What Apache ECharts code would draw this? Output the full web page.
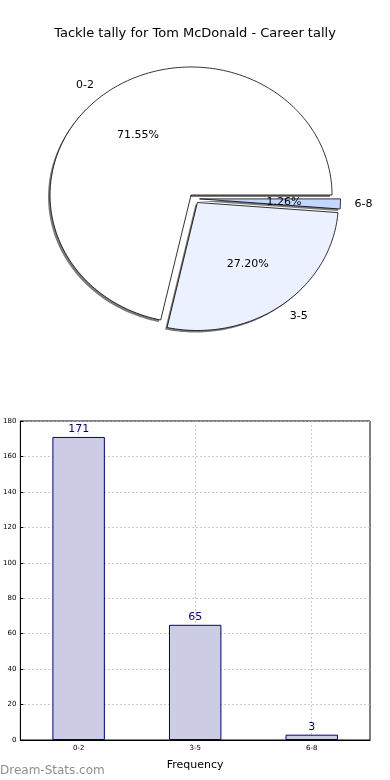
<!DOCTYPE html>
<html><head><meta charset="utf-8">
<script src="https://cdn.jsdelivr.net/npm/echarts@6/dist/echarts.min.js"></script>
<style>html,body{margin:0;padding:0;background:#fff}#c{width:390px;height:780px}</style>
</head><body><div id="c"></div>
<script>
var titleText = 'Tackle tally for Tom McDonald - Career tally';
var categories = ['0-2', '3-5', '6-8'];
var counts = [171, 65, 3];
var sliceColors = ['#ffffff', '#ebf1ff', '#c4d8ff'];
var yTicks = [0, 20, 40, 60, 80, 100, 120, 140, 160, 180];

var total = counts.reduce(function (a, b) { return a + b; }, 0);
var cum = [0];
counts.forEach(function (v, i) { cum.push(cum[i] + v); });
var explode = 0.037;

function renderSlice(params, api) {
  var i = params.dataIndex;
  var a0 = cum[i] / total * 2 * Math.PI;
  var a1 = cum[i + 1] / total * 2 * Math.PI;
  var am = (a0 + a1) / 2;
  var dx = explode * Math.cos(am), dy = explode * Math.sin(am);
  var pts = [api.coord([dx, dy])];
  var n = Math.max(2, Math.ceil((a1 - a0) / 0.02));
  for (var k = 0; k <= n; k++) {
    var a = a0 + (a1 - a0) * k / n;
    pts.push(api.coord([dx + Math.cos(a), dy + Math.sin(a)]));
  }
  var pc = api.coord([dx + 0.6 * Math.cos(am), dy + 0.6 * Math.sin(am)]);
  var lc = api.coord([dx + 1.1 * Math.cos(am), dy + 1.1 * Math.sin(am)]);
  var pct = (counts[i] / total * 100).toFixed(2) + '%';
  return {
    type: 'group',
    children: [
      { type: 'polygon', shape: { points: pts },
        style: { fill: sliceColors[i], stroke: null,
          shadowColor: 'rgba(90,90,90,0.8)', shadowOffsetX: -2, shadowOffsetY: 2, shadowBlur: 0 } },
      { type: 'polygon', shape: { points: pts }, z2: 2,
        style: { fill: null, stroke: '#000', lineWidth: 0.8 } },
      { type: 'text', x: pc[0], y: pc[1], z2: 10,
        style: { text: pct, fill: '#000', font: '11px "DejaVu Sans"', align: 'center', verticalAlign: 'middle' } },
      { type: 'text', x: lc[0], y: lc[1], z2: 10,
        style: { text: categories[i], fill: '#000', font: '11px "DejaVu Sans"',
          align: Math.cos(am) > 0 ? 'left' : 'right', verticalAlign: 'middle' } }
    ]
  };
}

var chart = echarts.init(document.getElementById('c'), null, { renderer: 'canvas' });
chart.setOption({
  animation: false,
  backgroundColor: '#fff',
  textStyle: { fontFamily: 'DejaVu Sans' },
  title: { text: titleText, left: 'center', top: 22,
    textStyle: { fontSize: 13, fontWeight: 'normal', color: '#000', fontFamily: 'DejaVu Sans' } },
  graphic: [{ type: 'text', left: 0, top: 765,
    style: { text: 'Dream-Stats.com', fill: '#8f8f8f', font: '12px "DejaVu Sans"' } }],
  grid: [
    { left: 53.3, top: 70.7, width: 282, height: 256, show: false },
    { left: 19, right: 20, top: 421, bottom: 40, show: true, borderColor: '#000', borderWidth: 1, backgroundColor: '#fff' }
  ],
  xAxis: [
    { type: 'value', gridIndex: 0, min: -1, max: 1, show: false },
    { type: 'category', gridIndex: 1, data: categories, boundaryGap: true,
      axisLine: { lineStyle: { color: '#000', width: 1 } },
      axisTick: { show: true, alignWithLabel: true, inside: true, length: 3, lineStyle: { color: '#000' } },
      axisLabel: { fontSize: 7, color: '#000', margin: 5 },
      splitLine: { show: true, alignWithLabel: true, lineStyle: { color: '#b8b8b8', type: [1.5, 2.5], width: 1 } },
      name: 'Frequency', nameLocation: 'middle', nameGap: 20,
      nameTextStyle: { fontSize: 11, color: '#000' } }
  ],
  yAxis: [
    { type: 'value', gridIndex: 0, min: -1, max: 1, show: false },
    { type: 'value', gridIndex: 1, min: 0, max: 180, interval: 20,
      axisLine: { show: true, lineStyle: { color: '#000', width: 1 } },
      axisTick: { show: true, inside: true, length: 3, lineStyle: { color: '#000' } },
      axisLabel: { fontSize: 7, color: '#000', margin: 4,
        formatter: function (v) { return yTicks.indexOf(v) >= 0 ? String(v) : ''; } },
      splitLine: { show: true, lineStyle: { color: '#b8b8b8', type: [1.5, 2.5], width: 1 } } }
  ],
  series: [
    { type: 'custom', xAxisIndex: 0, yAxisIndex: 0, coordinateSystem: 'cartesian2d',
      data: counts.map(function (v, i) { return [0, 0, v, i]; }),
      renderItem: renderSlice, silent: true, clip: false },
    { type: 'bar', xAxisIndex: 1, yAxisIndex: 1, data: counts, barWidth: '45%',
      itemStyle: { color: '#ccccE5', borderColor: '#000080', borderWidth: 1 },
      label: { show: true, position: 'top', distance: 2, color: '#000080', fontSize: 11 },
      z: 1 }
  ]
});
</script></body></html>
